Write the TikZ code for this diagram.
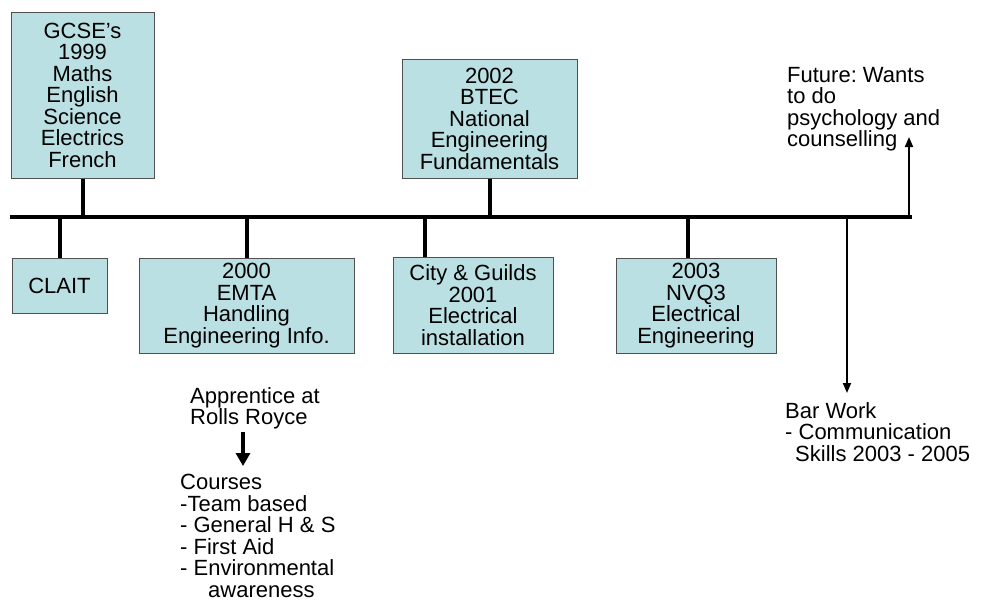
\documentclass[tikz,border=0pt]{standalone}
\usepackage{fontspec}
\setmainfont{Liberation Sans}
\usetikzlibrary{arrows.meta}
\frenchspacing
\definecolor{boxfill}{RGB}{187,224,227}
\definecolor{boxline}{RGB}{80,80,80}
\tikzset{
  every node/.style={font=\fontsize{22}{21.5}\selectfont},
  qbox/.style={draw=boxline, line width=1pt, fill=boxfill, align=center, inner sep=0pt},
  note/.style={align=left, anchor=north west, inner sep=0pt},
  stem/.style={line width=4pt},
  thinarrow/.style={line width=1.8pt, -{Triangle[length=10pt,width=8pt]}},
  thickarrow/.style={line width=4pt, -{Triangle[length=13pt,width=14pt]}}
}
\begin{document}
\begin{tikzpicture}[x=1pt,y=-1pt]
\useasboundingbox (0,0) rectangle (986,603);
% boxes
\node[qbox, minimum width=143pt, minimum height=166pt] (gcse) at (82.5,95) {GCSE's\\1999\\Maths\\English\\Science\\Electrics\\French};
\node[qbox, minimum width=175pt, minimum height=119pt] (btec) at (489.5,118.5) {2002\\BTEC\\National\\Engineering\\Fundamentals};
\node[qbox, minimum width=95pt, minimum height=55pt] (clait) at (59.5,285.5) {CLAIT};
\node[qbox, minimum width=215pt, minimum height=95pt] (emta) at (246.5,305.5) {2000\\EMTA\\Handling\\Engineering Info.};
\node[qbox, minimum width=160pt, minimum height=96pt] (city) at (473,305) {City \& Guilds\\2001\\Electrical\\installation};
\node[qbox, minimum width=160pt, minimum height=95pt] (nvq) at (696,305.5) {2003\\NVQ3\\Electrical\\Engineering};
% timeline
\coordinate (tl) at (10,217);
\coordinate (tr) at (912,217);
\draw[line width=4pt] (tl) -- (tr);
\coordinate (tgcse) at (82.5,217);
\coordinate (tbtec) at (489.5,217);
\coordinate (tclait) at (59.5,217);
\coordinate (temta) at (246.5,217);
\coordinate (tcity) at (425,217);
\coordinate (tnvq) at (688,217);
\draw[stem] (gcse.south) -- (tgcse);
\draw[stem] (btec.south) -- (tbtec);
\draw[stem] (tclait) -- (clait.north);
\draw[stem] (temta) -- (emta.north);
\draw[stem] (tcity) -- (tcity |- city.north);
\draw[stem] (tnvq) -- (tnvq |- nvq.north);
% future
\node[note] (future) at (787,67) {Future: Wants\\to do\\psychology and\\counselling};
\coordinate (tfut) at (909,218);
\coordinate (hfut) at (909,137);
\draw[thinarrow] (tfut) -- (hfut);
% bar work
\node[note] (bar) at (785,402) {Bar Work\\- Communication\\\hspace*{10pt}Skills 2003 - 2005};
\coordinate (tbar) at (847,218);
\draw[thinarrow] (tbar) -- (tbar |- 0,393);
% apprentice
\node[note] (appr) at (190,387) {Apprentice at\\Rolls Royce};
\node[note] (courses) at (180,474) {Courses\\-Team based\\- General H \& S\\- First Aid\\- Environmental\\\hspace*{28pt}awareness};
\coordinate (as) at (243,432);
\coordinate (ae) at (243,466);
\draw[thickarrow] (as) -- (ae);
\end{tikzpicture}
\end{document}
